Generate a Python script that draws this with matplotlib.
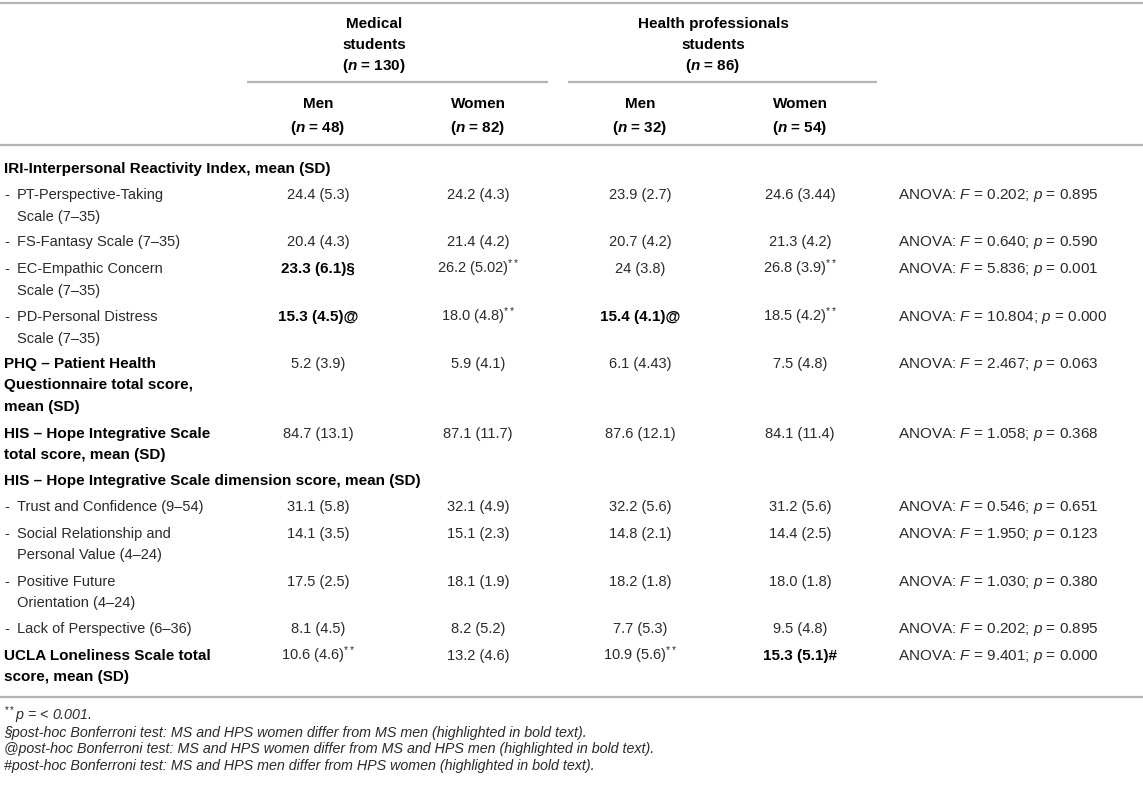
import matplotlib
matplotlib.use("Agg")
import matplotlib.pyplot as plt

plt.rcParams['font.family'] = ['Liberation Sans', 'DejaVu Sans']
plt.rcParams['mathtext.fontset'] = 'custom'
plt.rcParams['mathtext.rm'] = 'Liberation Sans'
plt.rcParams['mathtext.it'] = 'Liberation Sans:italic'
plt.rcParams['mathtext.bf'] = 'Liberation Sans:bold'
plt.rcParams['mathtext.bfit'] = 'Liberation Sans:italic:bold'

# ---------------- data ----------------
group_names = [["Medical", "students", "(n = 130)"],
               ["Health professionals", "students", "(n = 86)"]]
sub_names = ["Men", "Women", "Men", "Women"]
sub_n = ["(n = 48)", "(n = 82)", "(n = 32)", "(n = 54)"]

section_iri = "IRI-Interpersonal Reactivity Index, mean (SD)"
section_his = "HIS – Hope Integrative Scale dimension score, mean (SD)"

row_labels = [
    ["PT-Perspective-Taking", "Scale (7–35)"],
    ["FS-Fantasy Scale (7–35)"],
    ["EC-Empathic Concern", "Scale (7–35)"],
    ["PD-Personal Distress", "Scale (7–35)"],
    ["PHQ – Patient Health", "Questionnaire total score,", "mean (SD)"],
    ["HIS – Hope Integrative Scale", "total score, mean (SD)"],
    ["Trust and Confidence (9–54)"],
    ["Social Relationship and", "Personal Value (4–24)"],
    ["Positive Future", "Orientation (4–24)"],
    ["Lack of Perspective (6–36)"],
    ["UCLA Loneliness Scale total", "score, mean (SD)"],
]
row_is_sub = [True, True, True, True, False, False, True, True, True, True, False]

ms_men = ["24.4 (5.3)", "20.4 (4.3)", "23.3 (6.1)§", "15.3 (4.5)@", "5.2 (3.9)",
          "84.7 (13.1)", "31.1 (5.8)", "14.1 (3.5)", "17.5 (2.5)", "8.1 (4.5)", "10.6 (4.6)**"]
ms_women = ["24.2 (4.3)", "21.4 (4.2)", "26.2 (5.02)**", "18.0 (4.8)**", "5.9 (4.1)",
            "87.1 (11.7)", "32.1 (4.9)", "15.1 (2.3)", "18.1 (1.9)", "8.2 (5.2)", "13.2 (4.6)"]
hps_men = ["23.9 (2.7)", "20.7 (4.2)", "24 (3.8)", "15.4 (4.1)@", "6.1 (4.43)",
           "87.6 (12.1)", "32.2 (5.6)", "14.8 (2.1)", "18.2 (1.8)", "7.7 (5.3)", "10.9 (5.6)**"]
hps_women = ["24.6 (3.44)", "21.3 (4.2)", "26.8 (3.9)**", "18.5 (4.2)**", "7.5 (4.8)",
             "84.1 (11.4)", "31.2 (5.6)", "14.4 (2.5)", "18.0 (1.8)", "9.5 (4.8)", "15.3 (5.1)#"]
bold_cells = {(0, 2), (0, 3), (2, 3), (3, 10)}  # (column, row)

anova_F = ["0.202", "0.640", "5.836", "10.804", "2.467", "1.058", "0.546", "1.950", "1.030", "0.202", "9.401"]
anova_p = ["0.895", "0.590", "0.001", "0.000", "0.063", "0.368", "0.651", "0.123", "0.380", "0.895", "0.000"]

footnotes = ["**p = < 0.001.",
             "§post-hoc Bonferroni test: MS and HPS women differ from MS men (highlighted in bold text).",
             "@post-hoc Bonferroni test: MS and HPS women differ from MS and HPS men (highlighted in bold text).",
             "#post-hoc Bonferroni test: MS and HPS men differ from HPS women (highlighted in bold text)."]

# ---------------- layout ----------------
W, H = 1143, 785
fig = plt.figure(figsize=(W / 100, H / 100), dpi=100)
ax = fig.add_axes([0, 0, 1, 1])
ax.set_xlim(0, W)
ax.set_ylim(H, 0)
ax.axis('off')

FS = 10.5
FSB = 11.0
FS_ANOVA = 11.0
FS_NOTE = 10.3
DARK = '#2a2a2a'
LINE = '#b4b4b4'
BASE = 5  # offset from visual centre to baseline

col_x = [318, 478, 640, 800]
group_x = [374, 713]
anova_x = 898
lab_x = 4
ind_x = 17

row_y = [194, 241, 268, 316, 363, 433, 506, 533, 581, 628, 655]
line_gap = 21.5
iri_y = 168
his_y = 480

def hline(y, x0, x1):
    ax.plot([x0, x1], [y, y], color=LINE, lw=1.6, solid_capstyle='butt')

hline(3, 0, W)
hline(82, 247, 548)
hline(82, 568, 877)
hline(145, 0, W)
hline(697, 0, W)

def nfmt(s, bold):
    # italic n in "(n = ..)"
    return s.replace("n =", r"$\mathbfit{n}$ =" if bold else r"$\mathit{n}$ =")

# group headers
for gx, lines in zip(group_x, group_names):
    for i, ln in enumerate(lines):
        ax.text(gx, 23 + i * 21 + BASE, nfmt(ln, True), ha='center', va='baseline',
                fontsize=FSB, fontweight='bold', color='black')
for cx, nm, nn in zip(col_x, sub_names, sub_n):
    ax.text(cx, 103 + BASE, nm, ha='center', va='baseline', fontsize=FSB,
            fontweight='bold', color='black')
    ax.text(cx, 127 + BASE, nfmt(nn, True), ha='center', va='baseline', fontsize=FSB,
            fontweight='bold', color='black')

# section headers
for y, s in [(iri_y, section_iri), (his_y, section_his)]:
    ax.text(lab_x, y + BASE, s, ha='left', va='baseline', fontsize=FSB,
            fontweight='bold', color='black')

def valfmt(s):
    if s.endswith("**"):
        return s[:-2] + r"$^{**}$"
    return s

cols = [ms_men, ms_women, hps_men, hps_women]
for r, (lines, sub, y) in enumerate(zip(row_labels, row_is_sub, row_y)):
    for i, ln in enumerate(lines):
        yy = y + i * line_gap + BASE
        if sub:
            if i == 0:
                ax.text(lab_x, yy, "-", ha='left', va='baseline', fontsize=FS, color=DARK)
            ax.text(ind_x, yy, ln, ha='left', va='baseline', fontsize=FS, color=DARK)
        else:
            ax.text(lab_x, yy, ln, ha='left', va='baseline', fontsize=FSB,
                    fontweight='bold', color='black')
    for c, (cx, vals) in enumerate(zip(col_x, cols)):
        b = (c, r) in bold_cells
        ax.text(cx, y + BASE, valfmt(vals[r]), ha='center', va='baseline',
                fontsize=FSB if b else FS,
                fontweight='bold' if b else 'normal', color='black' if b else DARK)
    ax.text(anova_x, y + BASE,
            r"ANOVA: $\mathit{F}$ = " + anova_F[r] + r"; $\mathit{p}$ = " + anova_p[r],
            ha='left', va='baseline', fontsize=FS_ANOVA, color=DARK)

# footnotes
note_y = [715, 732, 748.5, 765]
for y, s in zip(note_y, footnotes):
    if s.startswith("**"):
        s = r"$^{**}$" + s[2:]
    ax.text(lab_x, y + BASE, s, ha='left', va='baseline', fontsize=FS_NOTE,
            style='italic', color=DARK)

fig.savefig("out.png", dpi=100)
